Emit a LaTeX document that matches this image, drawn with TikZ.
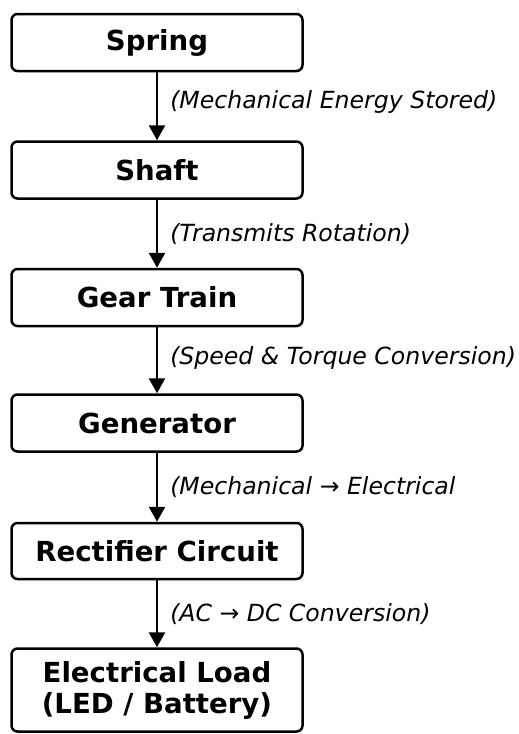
\documentclass[tikz,border=0pt]{standalone}
\usepackage{fontspec}
\setmainfont{DejaVu Sans}
\usepackage{tikz}
\usetikzlibrary{arrows.meta, positioning}
\usepackage{xcolor}

\begin{document}
\begin{tikzpicture}[
  x=1pt, y=-1pt,
  stage/.style={draw, line width=2.5pt, rounded corners=6pt, align=center,
                minimum width=291pt, minimum height=57pt, fill=white,
                font=\bfseries\fontsize{27.6}{31}\selectfont},
  arrow/.style={-{Triangle[length=15pt, width=16pt]}, line width=2.5pt},
  flow/.style={right=11pt, inner sep=1pt,
               font=\itshape\fontsize{23.6}{28}\selectfont}
]
  \useasboundingbox (0,0) rectangle (519,734);

  % --- stages (one column) -----------------------------------------
  \node[stage] (spring) at (157,42.5) {Spring};
  \node[stage] (shaft)  at (157,170)  {Shaft};
  \node[stage] (gear)   at (157,297.5) {Gear Train};
  \node[stage] (gen)    at (157,423)  {Generator};
  \node[stage, minimum height=56pt] (rect) at (157,551) {Rectifier Circuit};
  \node[stage, minimum height=83pt] (load) at (157,690)
       {Electrical Load\\(LED / Battery)};

  % --- arrows -------------------------------------------------------
  \draw[arrow] (spring) -- node[flow, yshift=4pt] {(Mechanical Energy Stored)} (shaft);
  \draw[arrow] (shaft)  -- node[flow] {(Transmits Rotation)} (gear);
  \draw[arrow] (gear)   -- node[flow, yshift=2pt] {(Speed \& Torque Conversion)} (gen);
  \draw[arrow] (gen)    -- node[flow] {(Mechanical → Electrical} (rect);
  \draw[arrow] (rect)   -- node[flow] {(AC → DC Conversion)} (load);
\end{tikzpicture}
\end{document}
